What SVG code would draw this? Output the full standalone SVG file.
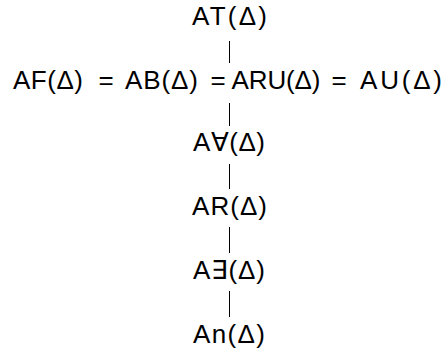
<svg xmlns="http://www.w3.org/2000/svg" width="447" height="356" viewBox="0 0 447 356">
<style>
text{font-family:"Liberation Sans","DejaVu Sans",sans-serif;font-size:26px;fill:#000;text-anchor:middle}
line{stroke:#000;stroke-width:1}
</style>
<rect width="447" height="356" fill="#fff"/>
<g id="connectors">
<line x1="229.5" y1="41" x2="229.5" y2="63"/>
<line x1="229.5" y1="103" x2="229.5" y2="126"/>
<line x1="229.5" y1="164" x2="229.5" y2="189"/>
<line x1="229.5" y1="227" x2="229.5" y2="253"/>
<line x1="229.5" y1="291" x2="229.5" y2="317"/>
</g>
<g id="AT"><text x="229.5" y="25" textLength="75">AT(Δ)</text></g>
<g id="row2">
<text x="48" y="89" textLength="70">AF(Δ)</text>
<text x="106" y="89">=</text>
<text x="161.5" y="89" textLength="73">AB(Δ)</text>
<text x="218" y="89">=</text>
<text x="276" y="89" textLength="89">ARU(Δ)</text>
<text x="339" y="89">=</text>
<text x="401" y="89" textLength="82">AU(Δ)</text>
</g>
<g id="Aforall"><text x="229" y="151" textLength="72">A∀(Δ)</text></g>
<g id="AR"><text x="229.5" y="215" textLength="75">AR(Δ)</text></g>
<g id="Aexists"><text x="229" y="279" textLength="72">A∃(Δ)</text></g>
<g id="An"><text x="229" y="343" textLength="72">An(Δ)</text></g>
</svg>
